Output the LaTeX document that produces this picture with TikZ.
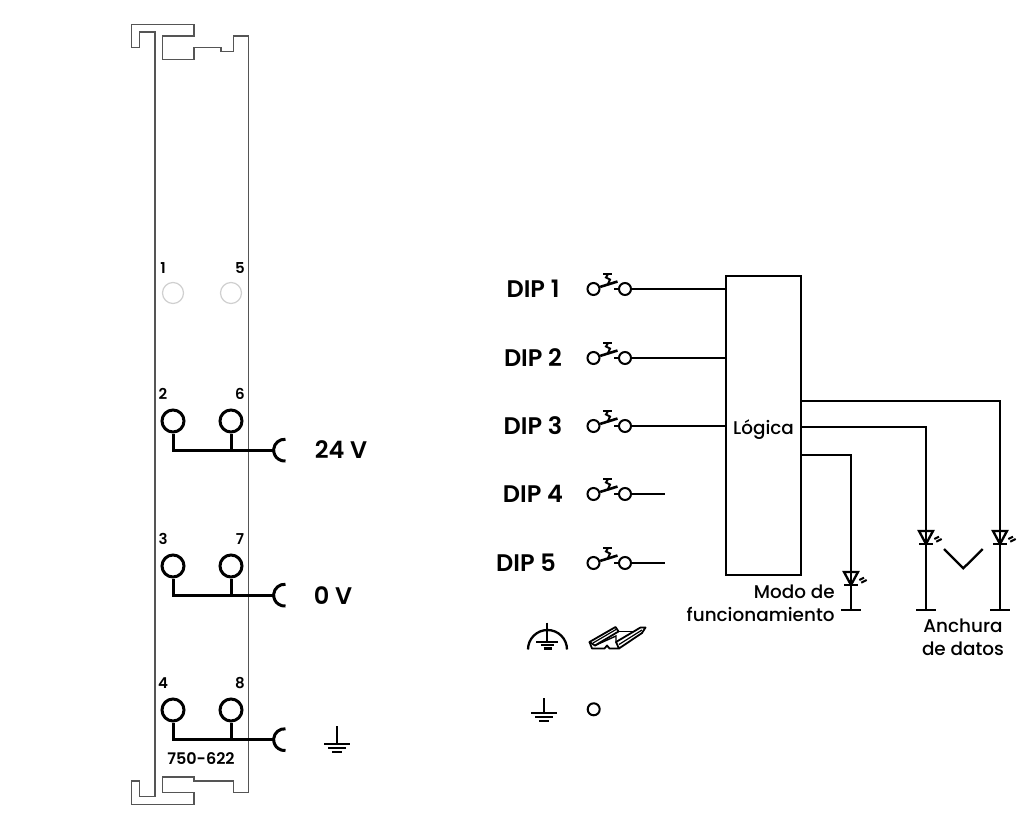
\documentclass[tikz,border=0pt]{standalone}
\usepackage{fontspec}
\setmainfont{Poppins Medium}[BoldFont={Poppins SemiBold}]
\usepackage{tikz}
\usetikzlibrary{positioning}
\definecolor{railgray}{HTML}{555555}
\definecolor{ledgray}{HTML}{D0D0D0}
\tikzset{
  railline/.style={draw=railgray,line width=.7pt},
  bus/.style={line width=1.5pt},
  wire/.style={line width=1.15pt},
  terminal/.style={circle,draw,line width=1.5pt,inner sep=0pt,minimum size=11pt},
  blind/.style={circle,draw=ledgray,line width=.6pt,inner sep=0pt,minimum size=10.5pt},
  swpoint/.style={circle,draw,line width=1pt,inner sep=0pt,minimum size=6pt},
  pinlabel/.style={font=\bfseries\fontsize{7.5}{9}\selectfont,inner sep=0pt},
  diplabel/.style={font=\bfseries\fontsize{12}{14}\selectfont,inner sep=0pt},
  voltlabel/.style={font=\bfseries\fontsize{12}{14}\selectfont,inner sep=0pt},
  txtlabel/.style={font=\fontsize{9.2}{11.5}\selectfont,inner sep=0pt,align=center}
}
\newcommand{\gndsym}[3]{%
  \draw[wire] (#1,#2) -- (#1,#2+#3);
  \draw[wire] (#1-13,#2+#3) -- (#1+13,#2+#3);
  \draw[wire] (#1-9,#2+#3+4) -- (#1+9,#2+#3+4);
  \draw[wire] (#1-5,#2+#3+8) -- (#1+5,#2+#3+8);}
\newcommand{\ledsym}[2]{%
  \draw[wire] (#1-7,#2) -- (#1+7,#2) -- (#1,#2+13) -- cycle;
  \draw[wire] (#1-7,#2+13) -- (#1+7,#2+13);
  \draw[line width=1pt] (#1+8.3,#2+8) -- (#1+13,#2+5.7);
  \draw[line width=1pt] (#1+10.3,#2+10.7) -- (#1+15.7,#2+8);}
\begin{document}
\begin{tikzpicture}[x=.5pt,y=-.5pt]
  \useasboundingbox (0,0) rectangle (1024,829);
  \draw[railline] (155,796.7) -- (155,32) -- (139.3,32) -- (139.3,47.7) -- (131.3,47.7) -- (131.3,24.3)
    -- (194,24.3) -- (194,36) -- (162.7,36) -- (162.7,59.3) -- (194,59.3) -- (194,47.7) -- (221,47.7)
    -- (221,51.7) -- (233.3,51.7) -- (233.3,36) -- (248.7,36) -- (248.7,792.7) -- (233.3,792.7)
    -- (233.3,781) -- (194,781) -- (194,777) -- (162.7,777) -- (162.7,792.7) -- (194,792.7)
    -- (194,804.3) -- (131.3,804.3) -- (131.3,781) -- (139.3,781) -- (139.3,796.7) -- cycle;
  \node[blind] (pin1) at (173,293) {};
  \node[blind] (pin5) at (231,293) {};
  \node[pinlabel] (lab1) at (163,268) {1};
  \node[pinlabel] (lab5) at (240,268) {5};
  \foreach \a/\b/\y/\v in {2/6/421/450,3/7/566/595,4/8/710/739.5} {
    \node[terminal] (pin\a) at (173,\y) {};
    \node[terminal] (pin\b) at (231,\y) {};
    \node[pinlabel] (lab\a) at (163,\y-27) {\a};
    \node[pinlabel] (lab\b) at (240,\y-27) {\b};
    \coordinate (plug\a) at (273,\v);
    \draw[bus] (pin\a.south) |- (plug\a);
    \draw[bus] (pin\b.south) -- (pin\b.south |- plug\a);
    \draw[bus] (285.5,\v-10.7) arc (-85:-275:10.9);
  }
  \node[voltlabel] (volt24) at (341,450) {24 V};
  \node[voltlabel] (volt0) at (333,596) {0 V};
  \gndsym{337}{726}{18}
  \node[pinlabel,font=\bfseries\fontsize{8}{10}\selectfont] (typ) at (201,759) {750-622};
  \node[draw,wire,minimum width=37.5pt,minimum height=149.5pt,inner sep=0pt] (logik) at (763.5,425.5) {};
  \node[txtlabel] (logtxt) at (763.5,430) {Lógica};
  \foreach \n/\y/\lx in {1/289/533,2/358/533,3/426/533,4/494/533,5/563/526} {
    \node[diplabel] (dip\n) at (\lx,\y-.5) {DIP \n};
    \node[swpoint] (sa\n) at (593.5,\y) {};
    \node[swpoint] (sb\n) at (625,\y) {};
    \draw[line width=1.3pt] (sa\n) -- (617.5,\y-7.5);
    \draw[line width=1.2pt] (603,\y-15) -- (612,\y-15);
    \draw[line width=1pt] (608,\y-15) -- (606,\y-11.5) -- (610,\y-9.5) -- (608,\y-5);
    \draw[wire] (614,\y) -- (sb\n.west);
  }
  \foreach \n in {1,2,3} {
    \draw[wire] (sb\n.east) -- (sb\n.east -| logik.west);
  }
  \foreach \n in {4,5} {
    \coordinate (end\n) at (665,0 |- sb\n);
    \draw[wire] (sb\n.east) -- (end\n);
  }
  \coordinate (outa) at (801,401);
  \coordinate (outb) at (801,427);
  \coordinate (outc) at (801,455);
  \coordinate (bara) at (1000,610);
  \coordinate (barb) at (926,610);
  \coordinate (barc) at (851,610);
  \draw[wire] (outa) -| (bara);
  \draw[wire] (outb) -| (barb);
  \draw[wire] (outc) -| (barc);
  \foreach \p in {bara,barb,barc} {
    \draw[wire] ([xshift=-5pt]\p) -- ([xshift=5pt]\p);
  }
  \ledsym{1000}{531}
  \ledsym{926}{531}
  \ledsym{851}{572}
  \draw[wire] (944,549) -- (963.3,568.3) -- (982.7,549);
  \node[txtlabel,align=right,anchor=north east] (modo) at (835,584) {Modo de\\funcionamiento};
  \node[txtlabel] (anch) at (963,637) {Anchura\\de datos};
  \draw[wire] (547.3,622.7) -- (547.3,641.7);
  \draw[wire] (536,641.7) -- (558,641.7);
  \draw[wire] (541,645) -- (554,645);
  \draw[wire] (543.5,648.5) -- (551.5,648.5);
  \draw[wire] (528,649.5) arc (-180:0:19.5);
  \draw[line width=.9pt,line join=round] (589.5,642) -- (615.5,627) -- (618.5,631.5) -- (595,645.5) -- cycle;
  \draw[line width=.9pt,line join=round] (589.5,642) -- (592,648.5) -- (604.5,648.5) -- (607,645.5) -- (609.5,648.5)
    -- (619,648.5) -- (642,633) -- (645.5,627.5) -- (640.5,627.5) -- (616,642) -- (619,648.5);
  \draw[line width=.6pt] (593,643) -- (616,629.5);
  \draw[line width=.6pt] (619,644.5) -- (642,630);
  \draw[line width=.7pt] (618.5,631.5) -- (634,631.5);
  \draw[line width=.7pt] (595,645.5) -- (616,636) -- (616,642);
  \gndsym{544}{698}{15}
  \node[swpoint] (gndpt) at (593.7,709.3) {};
\end{tikzpicture}
\end{document}
